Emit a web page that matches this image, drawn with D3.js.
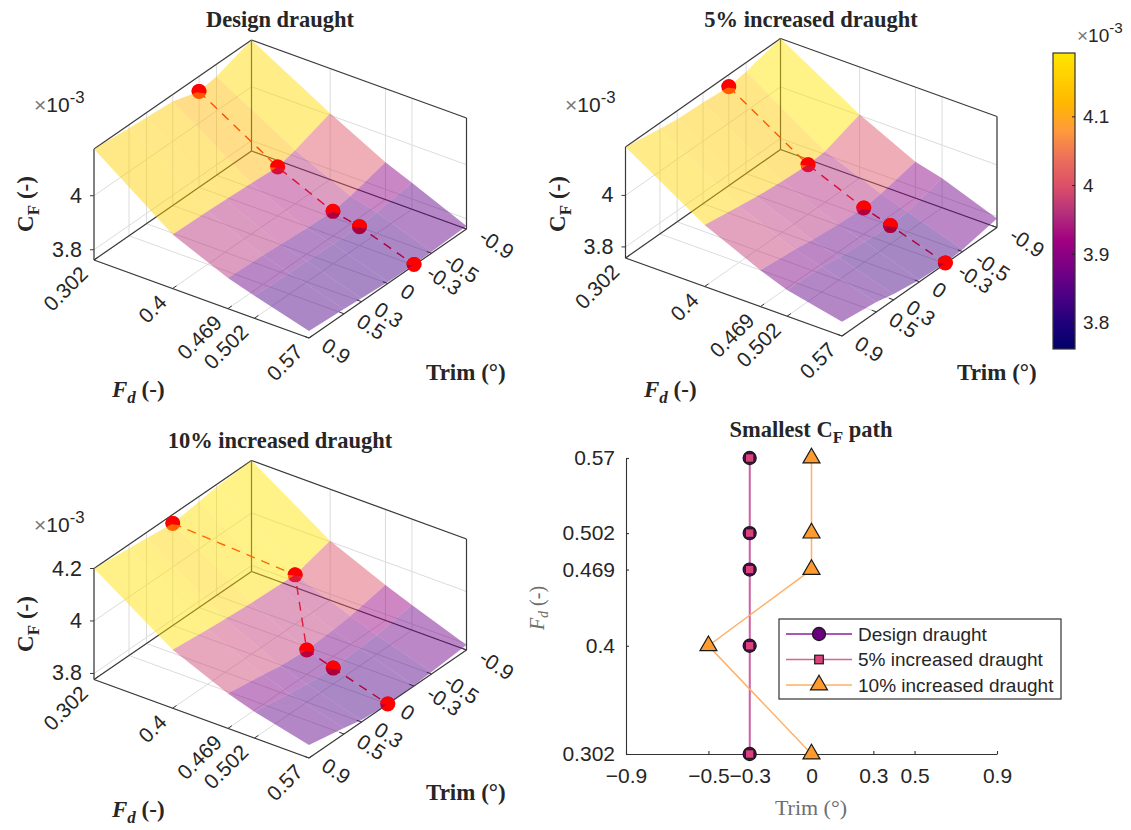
<!DOCTYPE html>
<html><head><meta charset="utf-8">
<script src="https://cdn.jsdelivr.net/npm/d3@7"></script>
<style>
html,body{margin:0;padding:0;background:#fff;}
svg{display:block;}
text{fill:#262626;}
.sans{font-family:"Liberation Sans",Arial,sans-serif;}
.serif{font-family:"Liberation Serif","Times New Roman",serif;font-weight:bold;}
</style></head><body>
<svg id="c" width="1131" height="830"></svg>
<script>
// ---------- data ----------
const fdValues = [0.302, 0.4, 0.469, 0.502, 0.57];
const trimValues = [-0.9, -0.5, -0.3, 0, 0.3, 0.5, 0.9];
const fdLabels = ["0.302", "0.4", "0.469", "0.502", "0.57"];
const trimLabels = ["-0.9", "-0.5", "-0.3", "0", "0.3", "0.5", "0.9"];

// CF x 1000; rows follow fdValues, columns follow trimValues
const surfaceDesign = [
  [4.173, 4.128, 4.117, 4.147, 4.155, 4.160, 4.173],
  [4.007, 3.960, 3.943, 3.950, 3.955, 3.958, 3.962],
  [3.900, 3.865, 3.853, 3.858, 3.865, 3.870, 3.875],
  [3.860, 3.840, 3.832, 3.835, 3.838, 3.840, 3.845],
  [3.773, 3.767, 3.765, 3.768, 3.775, 3.780, 3.788]
];
const surface5 = [
  [4.188, 4.153, 4.141, 4.150, 4.155, 4.165, 4.188],
  [4.004, 3.955, 3.949, 3.955, 3.965, 3.975, 3.996],
  [3.898, 3.868, 3.859, 3.865, 3.875, 3.885, 3.898],
  [3.871, 3.835, 3.828, 3.835, 3.845, 3.855, 3.859],
  [3.792, 3.765, 3.760, 3.765, 3.780, 3.795, 3.812]
];
const surface10 = [
  [4.200, 4.190, 4.180, 4.166, 4.178, 4.185, 4.200],
  [4.004, 3.965, 3.968, 3.972, 3.980, 3.985, 4.000],
  [3.912, 3.885, 3.878, 3.870, 3.878, 3.890, 3.910],
  [3.873, 3.850, 3.845, 3.838, 3.845, 3.855, 3.877],
  [3.796, 3.785, 3.780, 3.777, 3.785, 3.800, 3.827]
];
// smallest CF path: trim per fdValues entry
const pathDesign = [-0.3, -0.3, -0.3, -0.3, -0.3];
const path5 = [-0.3, -0.3, -0.3, -0.3, -0.3];
const path10 = [0, -0.5, 0, 0, 0];

const colorbarValues = [3.762, 3.80, 3.84, 3.88, 3.92, 3.96, 4.00, 4.04, 4.08, 4.12, 4.193];
const colorbarColors = ["#00006b", "#20007a", "#4c0085", "#780085", "#a00080", "#b5307c",
                        "#dc5068", "#ec705a", "#ff9a3c", "#ffb800", "#ffe600"];
const colorbarTicks = [3.8, 3.9, 4, 4.1];
const pathTrimTicks = [-0.9, -0.5, -0.3, 0, 0.3, 0.5, 0.9];

const panels = [
  {title: "Design draught", surface: surfaceDesign, path: pathDesign, zDomain: [3.762, 4.173], zTicks: [3.8, 4],
   bottom: [94, 260], front: [309, 338], right: [466.5, 229], height: 111,
   titleAt: [280, 27], cfAt: [33, 204], fdAt: [112, 397], trimAt: [426, 380], expAt: [34, 112]},
  {title: "5% increased draught", surface: surface5, path: path5, zDomain: [3.757, 4.188], zTicks: [3.8, 4],
   bottom: [625.5, 258], front: [842, 336], right: [997, 227.5], height: 111,
   titleAt: [811, 27], cfAt: [565, 204], fdAt: [644, 397], trimAt: [957, 380], expAt: [565, 112]},
  {title: "10% increased draught", surface: surface10, path: path10, zDomain: [3.777, 4.2], zTicks: [3.8, 4, 4.2],
   bottom: [94, 679.5], front: [309, 758], right: [466.5, 650], height: 111,
   titleAt: [280, 448], cfAt: [33, 624], fdAt: [112, 817], trimAt: [426, 800], expAt: [34, 532]}
];

const pathSeries = [
  {name: "Design draught", values: pathDesign, line: "#8a1f9e", fill: "#6a0080", shape: "circle", w: 1.5},
  {name: "5% increased draught", values: path5, line: "#e0608f", fill: "#d9437a", shape: "square", w: 1.6},
  {name: "10% increased draught", values: path10, line: "#ffb066", fill: "#ff9a2e", shape: "triangle", w: 1.5}
];

// ---------- drawing ----------
const svg = d3.select("#c");
const colorOf = d3.scaleLinear().domain(colorbarValues).range(colorbarColors).clamp(true);
const fdT = d3.scaleLinear().domain([0.302, 0.57]).range([0, 1]);
const trimS = d3.scaleLinear().domain([0.9, -0.9]).range([0, 1]);
const TICK_FONT = 21, LABEL_FONT = 23, TITLE_FONT = 22.5, SUB_FONT = 17;

function addCF(g, x, y) {
  const t = g.append("text").attr("class", "serif").attr("transform", `translate(${x},${y}) rotate(-90)`)
    .attr("text-anchor", "middle").attr("font-size", LABEL_FONT);
  t.append("tspan").text("C");
  t.append("tspan").attr("dy", 6).attr("font-size", SUB_FONT).text("F");
  t.append("tspan").attr("dy", -6).text(" (-)");
}
function addFd(g, x, y) {
  const t = g.append("text").attr("class", "serif").attr("x", x).attr("y", y).attr("font-size", LABEL_FONT);
  t.append("tspan").attr("font-style", "italic").text("F");
  t.append("tspan").attr("font-style", "italic").attr("dy", 6).attr("font-size", SUB_FONT).text("d");
  t.append("tspan").attr("dy", -6).text(" (-)");
}
function addExp(g, x, y, fs) {
  const t = g.append("text").attr("class", "sans").attr("x", x).attr("y", y).attr("font-size", fs);
  t.append("tspan").style("fill", "#777").text("\u00d7");
  t.append("tspan").text("10");
  t.append("tspan").attr("dy", -9).attr("font-size", fs * 0.8).text("-3");
}

panels.forEach(p => {
  const g = svg.append("g");
  const zH = d3.scaleLinear().domain(p.zDomain).range([0, p.height]);
  const ax = p.front[0] - p.bottom[0], ay = p.front[1] - p.bottom[1];
  const bx = p.right[0] - p.front[0], by = p.right[1] - p.front[1];
  const X = (fd, tr) => p.bottom[0] + fdT(fd) * ax + trimS(tr) * bx;
  const Y = (fd, tr, z) => p.bottom[1] + fdT(fd) * ay + trimS(tr) * by - (z === undefined ? 0 : zH(z));
  const seg = (x1, y1, x2, y2, col, w) => g.append("line").attr("x1", x1).attr("y1", y1).attr("x2", x2).attr("y2", y2)
    .attr("stroke", col).attr("stroke-width", w);
  const GRID = "#dcdcdc", BOX = "#3a3a3a";
  const fd0 = 0.302, fd1 = 0.57, tr0 = 0.9, tr1 = -0.9, zTop = p.zDomain[1];

  // grid: floor and the two back walls
  fdValues.forEach(f => {
    seg(X(f, tr0), Y(f, tr0), X(f, tr1), Y(f, tr1), GRID, 1);
    seg(X(f, tr1), Y(f, tr1), X(f, tr1), Y(f, tr1, zTop), GRID, 1);
  });
  trimValues.forEach(t => {
    seg(X(fd0, t), Y(fd0, t), X(fd1, t), Y(fd1, t), GRID, 1);
    seg(X(fd0, t), Y(fd0, t), X(fd0, t), Y(fd0, t, zTop), GRID, 1);
  });
  p.zTicks.forEach(z => {
    seg(X(fd0, tr0), Y(fd0, tr0, z), X(fd0, tr1), Y(fd0, tr1, z), GRID, 1);
    seg(X(fd0, tr1), Y(fd0, tr1, z), X(fd1, tr1), Y(fd1, tr1, z), GRID, 1);
  });

  // box
  seg(X(fd0, tr0), Y(fd0, tr0), X(fd1, tr0), Y(fd1, tr0), BOX, 1.2);
  seg(X(fd1, tr0), Y(fd1, tr0), X(fd1, tr1), Y(fd1, tr1), BOX, 1.2);
  seg(X(fd0, tr0), Y(fd0, tr0), X(fd0, tr1), Y(fd0, tr1), BOX, 1.2);
  seg(X(fd0, tr1), Y(fd0, tr1), X(fd1, tr1), Y(fd1, tr1), BOX, 1.2);
  seg(X(fd0, tr0), Y(fd0, tr0), X(fd0, tr0), Y(fd0, tr0, zTop), BOX, 1.2);
  seg(X(fd1, tr1), Y(fd1, tr1), X(fd1, tr1), Y(fd1, tr1, zTop), BOX, 1.2);
  seg(X(fd0, tr1), Y(fd0, tr1), X(fd0, tr1), Y(fd0, tr1, zTop), BOX, 1.2);
  seg(X(fd0, tr0), Y(fd0, tr0, zTop), X(fd0, tr1), Y(fd0, tr1, zTop), BOX, 1.2);
  seg(X(fd0, tr1), Y(fd0, tr1, zTop), X(fd1, tr1), Y(fd1, tr1, zTop), BOX, 1.2);

  // ticks
  fdValues.forEach(f => seg(X(f, tr0), Y(f, tr0), X(f, tr0) + bx * 0.025, Y(f, tr0) + by * 0.025, BOX, 1));
  trimValues.forEach(t => seg(X(fd1, t), Y(fd1, t), X(fd1, t) - ax * 0.022, Y(fd1, t) - ay * 0.022, BOX, 1));
  p.zTicks.forEach(z => seg(X(fd0, tr0) - 4, Y(fd0, tr0, z), X(fd0, tr0), Y(fd0, tr0, z), BOX, 1));

  // path, beneath the translucent surface
  const pts = p.path.map((t, i) => {
    const zi = p.surface[i][trimValues.indexOf(t)];
    return [X(fdValues[i], t), Y(fdValues[i], t, zi)];
  });
  g.append("path").attr("d", d3.line()(pts)).attr("fill", "none").attr("stroke", "#ff0000")
    .attr("stroke-width", 1.4).attr("stroke-dasharray", "9 7");
  g.selectAll("circle.mk").data(pts).join("circle").attr("class", "mk")
    .attr("cx", d => d[0]).attr("cy", d => d[1]).attr("r", 7.5).attr("fill", "#ff0000");

  // surface, one flat facet per grid cell
  const facets = [];
  for (let i = 0; i < fdValues.length - 1; i++) {
    for (let j = 0; j < trimValues.length - 1; j++) {
      const corners = [[i, j], [i, j + 1], [i + 1, j + 1], [i + 1, j]]
        .map(([a, b]) => [X(fdValues[a], trimValues[b]), Y(fdValues[a], trimValues[b], p.surface[a][b])]);
      facets.push({corners, z: p.surface[i][j]});
    }
  }
  g.selectAll("path.facet").data(facets).join("path").attr("class", "facet")
    .attr("d", d => d3.line()(d.corners) + "Z").attr("fill", d => colorOf(d.z)).attr("fill-opacity", 0.47)
    .attr("stroke", "none");

  // upper part of each marker pokes through the surface
  g.selectAll("path.cap").data(pts).join("path").attr("class", "cap").attr("fill", "#ff0000")
    .attr("d", d => {
      const q = d3.path();
      q.arc(d[0], d[1], 7.5, 180 * Math.PI / 180, 375 * Math.PI / 180);
      q.closePath();
      return q.toString();
    });

  // tick labels
  fdValues.forEach((f, i) => {
    g.append("text").attr("class", "sans").attr("font-size", TICK_FONT).attr("text-anchor", "end")
      .attr("dominant-baseline", "central")
      .attr("transform", `translate(${X(f, tr0) - 10},${Y(f, tr0) + 10}) rotate(-45)`).text(fdLabels[i]);
  });
  trimValues.forEach((t, i) => {
    g.append("text").attr("class", "sans").attr("font-size", TICK_FONT).attr("text-anchor", "start")
      .attr("dominant-baseline", "central")
      .attr("transform", `translate(${X(fd1, t) + 15},${Y(fd1, t) + 5}) rotate(33)`).text(trimLabels[i]);
  });
  p.zTicks.forEach(z => {
    g.append("text").attr("class", "sans").attr("font-size", TICK_FONT + 0.5).attr("text-anchor", "end")
      .attr("dominant-baseline", "central").attr("x", X(fd0, tr0) - 12).attr("y", Y(fd0, tr0, z)).text(d3.format("~g")(z));
  });

  // titles and labels
  g.append("text").attr("class", "serif").attr("x", p.titleAt[0]).attr("y", p.titleAt[1]).attr("text-anchor", "middle")
    .attr("font-size", TITLE_FONT).text(p.title);
  addCF(g, p.cfAt[0], p.cfAt[1]);
  addFd(g, p.fdAt[0], p.fdAt[1]);
  g.append("text").attr("class", "serif").attr("x", p.trimAt[0]).attr("y", p.trimAt[1]).attr("font-size", LABEL_FONT).text("Trim (\u00b0)");
  addExp(g, p.expAt[0], p.expAt[1], 21);
});

// ---------- colorbar ----------
(function () {
  const y = d3.scaleLinear().domain([3.762, 4.193]).range([349, 53]);
  const defs = svg.append("defs").append("linearGradient").attr("id", "cb").attr("x1", 0).attr("x2", 0).attr("y1", 1).attr("y2", 0);
  colorbarValues.forEach((v, i) => defs.append("stop")
    .attr("offset", (v - 3.762) / (4.193 - 3.762)).attr("stop-color", colorbarColors[i]));
  const g = svg.append("g");
  g.append("rect").attr("x", 1053).attr("y", y(4.193)).attr("width", 22).attr("height", y(3.762) - y(4.193))
    .attr("fill", "url(#cb)").attr("stroke", "#333").attr("stroke-width", 1.2);
  colorbarTicks.forEach(v => {
    g.append("line").attr("x1", 1072).attr("x2", 1075).attr("y1", y(v)).attr("y2", y(v)).attr("stroke", "#222");
    g.append("text").attr("class", "sans").attr("x", 1083).attr("y", y(v)).attr("dominant-baseline", "central")
      .attr("font-size", 19).text(d3.format("~g")(v));
  });
  addExp(g, 1077, 42, 19);
})();

// ---------- smallest CF path ----------
(function () {
  const x = d3.scaleLinear().domain([-0.9, 0.9]).range([626, 997]);
  const y = d3.scaleLinear().domain([0.302, 0.57]).range([754, 458]);
  const g = svg.append("g");

  const xAxis = g.append("g").attr("transform", "translate(0,754)")
    .call(d3.axisBottom(x).tickValues(pathTrimTicks).tickFormat(d3.format("~g")).tickSizeInner(-3).tickSizeOuter(0).tickPadding(14));
  const yAxis = g.append("g").attr("transform", "translate(626,0)")
    .call(d3.axisLeft(y).tickValues(fdValues).tickFormat((d, i) => fdLabels[i]).tickSizeInner(-3).tickSizeOuter(0).tickPadding(11));
  [xAxis, yAxis].forEach(a => {
    a.selectAll("path,line").attr("stroke", "#333").attr("stroke-width", 1.1);
    a.selectAll("text").attr("class", "sans").attr("font-size", TICK_FONT).attr("fill", "#262626");
  });

  const tri = d3.symbol().type(d3.symbolTriangle).size(125);
  function marker(sel, s, cx, cy) {
    if (s.shape === "circle") sel.append("circle").attr("cx", cx).attr("cy", cy).attr("r", 6.5).attr("fill", s.fill).attr("stroke", "#1a1a1a").attr("stroke-width", 1.3);
    if (s.shape === "square") sel.append("rect").attr("x", cx - 4.3).attr("y", cy - 4.3).attr("width", 8.6).attr("height", 8.6).attr("fill", s.fill).attr("stroke", "#1a1a1a").attr("stroke-width", 1.2);
    if (s.shape === "triangle") sel.append("path").attr("d", tri()).attr("transform", `translate(${cx},${cy})`).attr("fill", s.fill).attr("stroke", "#1a1a1a").attr("stroke-width", 1.2);
  }
  pathSeries.forEach(s => {
    const pts = s.values.map((t, i) => [x(t), y(fdValues[i])]);
    g.append("path").attr("d", d3.line()(pts)).attr("fill", "none").attr("stroke", s.line).attr("stroke-width", s.w);
  });
  pathSeries.forEach(s => s.values.forEach((t, i) => marker(g, s, x(t), y(fdValues[i]))));

  g.append("text").attr("class", "serif").attr("x", 811).attr("y", 437).attr("text-anchor", "middle")
    .attr("font-size", TITLE_FONT).call(t => {
      t.append("tspan").text("Smallest C");
      t.append("tspan").attr("dy", 6).attr("font-size", SUB_FONT).text("F");
      t.append("tspan").attr("dy", -6).text(" path");
    });
  g.append("text").attr("x", 811).attr("y", 815).attr("text-anchor", "middle").attr("font-size", 22)
    .attr("font-family", "Liberation Serif").style("fill", "#6e6e6e").text("Trim (\u00b0)");
  const yl = g.append("text").attr("transform", "translate(544,608) rotate(-90)").attr("text-anchor", "middle")
    .attr("font-size", 20).attr("font-family", "Liberation Serif").style("fill", "#6e6e6e");
  yl.append("tspan").attr("font-style", "italic").text("F");
  yl.append("tspan").attr("font-style", "italic").attr("dy", 4).attr("font-size", 14).text("d");
  yl.append("tspan").attr("dy", -4).text(" (-)");

  // legend
  const lg = g.append("g");
  lg.append("rect").attr("x", 779).attr("y", 619).attr("width", 282).attr("height", 80)
    .attr("fill", "#fff").attr("stroke", "#333").attr("stroke-width", 1.2);
  const rowY = d3.scalePoint().domain(pathSeries.map(s => s.name)).range([634, 685]);
  pathSeries.forEach(s => {
    const ry = rowY(s.name);
    lg.append("line").attr("x1", 786).attr("x2", 852).attr("y1", ry).attr("y2", ry).attr("stroke", s.line).attr("stroke-width", s.w);
    marker(lg, s, 819, ry);
    lg.append("text").attr("class", "sans").attr("x", 858).attr("y", ry).attr("dominant-baseline", "central")
      .attr("font-size", 19).text(s.name);
  });
})();
</script>
</body></html>
